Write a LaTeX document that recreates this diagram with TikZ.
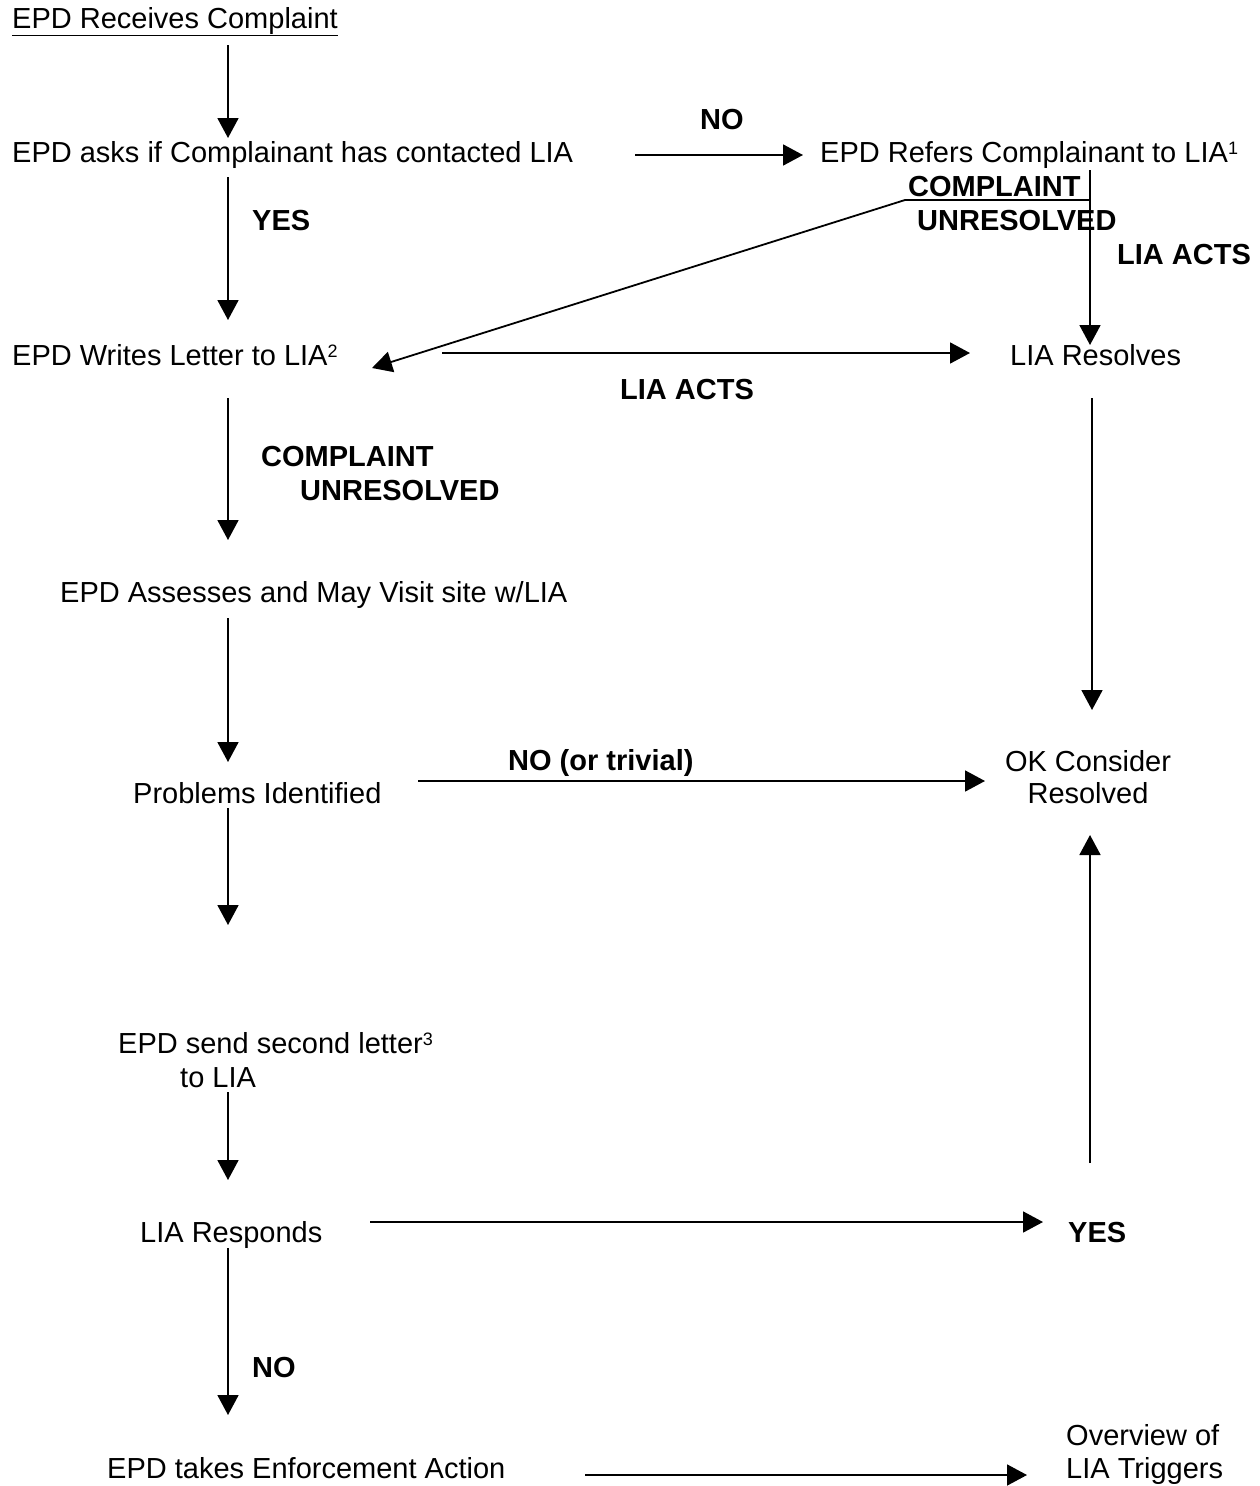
\documentclass[tikz,border=0pt]{standalone}
\usepackage{fontspec}
\setmainfont{Liberation Sans}
\usetikzlibrary{arrows.meta}
\newcommand{\supnum}[1]{\raisebox{8pt}{\fontsize{18}{18}\selectfont #1}}
\begin{document}
\begin{tikzpicture}[x=1pt,y=-1pt,
  txt/.style={anchor=base west,inner sep=0pt,font=\fontsize{29}{33}\selectfont},
  ctxt/.style={anchor=base,inner sep=0pt,font=\fontsize{29}{33}\selectfont},
  lbl/.style={anchor=base west,inner sep=0pt,font=\fontsize{29}{33}\selectfont\bfseries},
  conn/.style={line width=1.8pt},
  arr/.style={conn,-{Triangle[length=20pt,width=21pt]}}]
\useasboundingbox (0,0) rectangle (1260,1486);
% texts
\node[txt] (recv) at (12,28) {\underline{EPD Receives Complaint}};
\node[txt] (asks) at (12,162) {EPD asks if Complainant has contacted LIA};
\node[txt] (refers) at (820,162) {EPD Refers Complainant to LIA\supnum{1}};
\node[txt] (writes) at (12,365) {EPD Writes Letter to LIA\supnum{2}};
\node[txt] (resolves) at (1010,365) {LIA Resolves};
\node[txt] (assess) at (60,602) {EPD Assesses and May Visit site w/LIA};
\node[txt] (problems) at (133,803) {Problems Identified};
\node[ctxt] (ok1) at (1088,771) {OK Consider};
\node[ctxt] (ok2) at (1088,803) {Resolved};
\node[txt] (second1) at (118,1053) {EPD send second letter\supnum{3}};
\node[txt] (second2) at (180,1087) {to LIA};
\node[txt] (responds) at (140,1242) {LIA Responds};
\node[lbl] (yesr) at (1068,1242) {YES};
\node[txt] (enforce) at (107,1478) {EPD takes Enforcement Action};
\node[txt] (ov1) at (1066,1445) {Overview of};
\node[txt] (ov2) at (1066,1478) {LIA Triggers};
% labels
\node[lbl] (lno) at (700,129) {NO};
\node[lbl] (lyes) at (252,230) {YES};
\node[lbl] (lcu1) at (908,196) {COMPLAINT};
\node[lbl] (lcu2) at (917,230) {UNRESOLVED};
\node[lbl] (lacts1) at (1117,264) {LIA ACTS};
\node[lbl] (lacts2) at (620,399) {LIA ACTS};
\node[lbl] (lcu3) at (261,466) {COMPLAINT};
\node[lbl] (lcu4) at (300,500) {UNRESOLVED};
\node[lbl] (lnotriv) at (508,770) {NO (or trivial)};
\node[lbl] (lno2) at (252,1377) {NO};
% coordinates
\coordinate (a1s) at (228,45);   \coordinate (a1e) at (228,138);
\coordinate (a2s) at (228,177);  \coordinate (a2e) at (228,320);
\coordinate (a3s) at (228,398);  \coordinate (a3e) at (228,540);
\coordinate (a4s) at (228,618);  \coordinate (a4e) at (228,762);
\coordinate (a5s) at (228,808);  \coordinate (a5e) at (228,925);
\coordinate (a6s) at (228,1092); \coordinate (a6e) at (228,1180);
\coordinate (a7s) at (228,1248); \coordinate (a7e) at (228,1415);
\coordinate (nos) at (635,155);  \coordinate (noe) at (803,155);
\coordinate (rvs) at (1090,170); \coordinate (rve) at (1090,345);
\coordinate (cuj) at (1090,200); \coordinate (cuk) at (905,200);
\coordinate (cue) at (372,368);
\coordinate (actss) at (442,353); \coordinate (actse) at (970,353);
\coordinate (rrs) at (1092,398); \coordinate (rre) at (1092,710);
\coordinate (ntrs) at (418,781); \coordinate (ntre) at (985,781);
\coordinate (ups) at (1090,1163); \coordinate (upe) at (1090,835);
\coordinate (yess) at (370,1222); \coordinate (yese) at (1043,1222);
\coordinate (ens) at (585,1475); \coordinate (ene) at (1027,1475);
% connectors
\draw[arr] (a1s) -- (a1e);
\draw[arr] (a2s) -- (a2e);
\draw[arr] (a3s) -- (a3e);
\draw[arr] (a4s) -- (a4e);
\draw[arr] (a5s) -- (a5e);
\draw[arr] (a6s) -- (a6e);
\draw[arr] (a7s) -- (a7e);
\draw[arr] (nos) -- (noe);
\draw[arr] (rvs) -- (rve);
\draw[arr] (cuj) -- (cuk) -- (cue);
\draw[arr] (actss) -- (actse);
\draw[arr] (rrs) -- (rre);
\draw[arr] (ntrs) -- (ntre);
\draw[arr] (ups) -- (upe);
\draw[arr] (yess) -- (yese);
\draw[arr] (ens) -- (ene);
\end{tikzpicture}
\end{document}
